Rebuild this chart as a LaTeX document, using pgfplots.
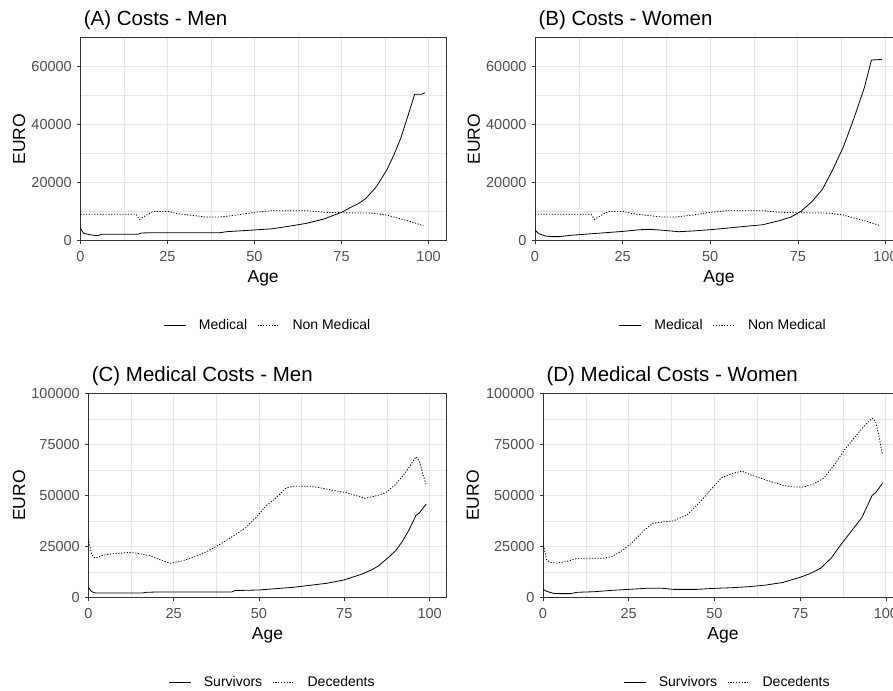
\documentclass[border=0pt]{standalone}
\usepackage{fontspec}
\setmainfont{Liberation Sans}
\usepackage{pgfplots}
\pgfplotsset{compat=1.18}
\definecolor{gridc}{HTML}{E6E6E6}
\definecolor{bordc}{HTML}{333333}
\definecolor{tickc}{HTML}{4D4D4D}
\pgfplotsset{
  panel/.style={
    scale only axis, anchor=south west,
    xmin=0, xmax=105, ymin=0,
    xtick={0,25,50,75,100}, minor xtick={12.5,37.5,62.5,87.5},
    grid=both,
    major grid style={line width=0.8pt, color=gridc},
    minor grid style={line width=0.45pt, color=gridc},
    tick pos=left, tick align=outside,
    major tick length=3.5pt, minor tick length=0pt,
    tick style={bordc, line width=0.7pt},
    axis line style={bordc, line width=0.8pt},
    ticklabel style={font=\fontsize{14.5}{16}\selectfont, text=tickc},
    xticklabel style={yshift=-4pt},
    yticklabel style={xshift=-1.5pt},
    /pgf/number format/fixed,
    /pgf/number format/precision=0,
    /pgf/number format/1000 sep={},
    /pgf/number format/assume math mode=true,
    scaled ticks=false,
    every axis title/.style={at={(axis description cs:0,1)}, anchor=base west, yshift=11.7pt, font=\fontsize{20.5}{24}\selectfont},
    xlabel=Age, ylabel=EURO,
    every axis x label/.style={at={(axis description cs:0.5,0)}, anchor=base, yshift=-42.3pt, font=\fontsize{17.5}{20}\selectfont},
    every axis y label/.style={rotate=90, anchor=base, font=\fontsize{17.5}{20}\selectfont},
    legend style={draw=none, fill=none, font=\fontsize{14}{16}\selectfont, anchor=center, legend columns=2,
      /tikz/every even column/.append style={column sep=8pt}},
    legend image code/.code={\draw[#1] (0pt,0pt) -- (22pt,0pt); \path[draw=none,fill=none] (22pt,0pt) -- (33pt,0pt);},
  },
  sol/.style={black, line width=0.8pt},
  dot/.style={black, line width=0.8pt, dash pattern=on 1.2pt off 1.6pt},
}
\begin{document}
\begin{tikzpicture}
% (A)
\begin{axis}[panel, at={(80.3pt,449.3pt)}, width=365.7pt, height=203pt,
  ymax=70000, ytick={0,20000,40000,60000}, minor ytick={10000,30000,50000,70000},
  title={(A) Costs - Men},
  ylabel style={at={(axis description cs:-0.1512,0.5)}},
  legend style={at={(axis description cs:0.513,-0.415)}}]
\addplot[sol] coordinates {(0,4250) (1,2500) (3,2000) (5,1700) (6,2200) (10,2200) (16.5,2200) (17.5,2650) (20,2750) (30,2750) (40,2750) (42,3100) (50,3700) (55,4100) (60,5000) (65,6000) (70,7500) (75,9800) (78,11700) (80,12900) (82,14600) (85,18600) (88,24400) (90,29500) (92,35300) (94,42800) (96,50500) (98,50500) (99,51000)};
\addlegendentry{Medical}
\addplot[dot] coordinates {(0,9100) (16,9100) (17,7350) (19,8850) (21,10100) (25,10100) (28,9300) (33,8600) (36,8150) (40,8150) (45,8850) (50,9800) (55,10350) (65,10350) (70,9800) (75,9650) (84,9500) (88,8850) (90,8150) (94,6900) (97,5750) (98.5,5200)};
\addlegendentry{Non Medical}
\end{axis}
% (B)
\begin{axis}[panel, at={(535pt,449.3pt)}, width=368pt, height=203pt,
  ymax=70000, ytick={0,20000,40000,60000}, minor ytick={10000,30000,50000,70000},
  title={(B) Costs - Women},
  ylabel style={at={(axis description cs:-0.1495,0.5)}},
  legend style={at={(axis description cs:0.512,-0.415)}}]
\addplot[sol] coordinates {(0,3700) (1,2500) (3,1600) (5,1400) (7,1400) (10,1850) (15,2300) (20,2750) (25,3200) (30,3800) (33,3900) (37,3550) (41,3100) (45,3350) (50,3800) (55,4350) (60,4950) (65,5500) (70,7000) (73,8150) (76,10250) (79,13450) (82,17700) (85,24600) (88,32400) (91,42200) (94,52900) (96,62300) (99,62500)};
\addlegendentry{Medical}
\addplot[dot] coordinates {(0,9100) (16,9100) (17,7350) (19,8850) (21,10100) (25,10100) (28,9300) (33,8600) (36,8150) (40,8150) (45,8850) (50,9800) (55,10350) (65,10350) (70,9800) (75,9650) (84,9500) (88,8850) (90,8150) (94,6900) (97,5750) (98.5,5200)};
\addlegendentry{Non Medical}
\end{axis}
% (C)
\begin{axis}[panel, at={(88.3pt,92.7pt)}, width=358.4pt, height=203.8pt,
  ymax=100000, ytick={0,25000,50000,75000,100000}, minor ytick={12500,37500,62500,87500},
  title={(C) Medical Costs - Men},
  ylabel style={at={(axis description cs:-0.1766,0.5)}},
  legend style={at={(axis description cs:0.514,-0.4156)}}]
\addplot[sol] coordinates {(0,4750) (1,2800) (2,2150) (16,2150) (17,2450) (20,2600) (42,2600) (43,3300) (50,3600) (55,4250) (60,4900) (65,5900) (70,6900) (75,8550) (80,11300) (83,13450) (85,15400) (88,19700) (90,22800) (92,27400) (94,33200) (96,40200) (97,41400) (99,45800)};
\addlegendentry{Survivors}
\addplot[dot] coordinates {(0,28600) (1,20900) (2,19200) (4,20500) (7,21300) (12,22000) (14,21700) (18,20400) (21,18400) (24,16700) (27,17600) (30,19200) (33,21000) (36,23600) (40,27400) (43,30700) (46,34000) (49,38900) (52,44700) (55,48800) (58,53700) (60,54500) (65,54500) (68,53700) (72,52400) (76,51200) (79,49600) (81,48600) (84,49600) (87,51200) (90,55300) (93,61400) (96,69000) (97,66800) (98,60300) (99,55300)};
\addlegendentry{Decedents}
\end{axis}
% (D)
\begin{axis}[panel, at={(543pt,92.7pt)}, width=360pt, height=203.8pt,
  ymax=100000, ytick={0,25000,50000,75000,100000}, minor ytick={12500,37500,62500,87500},
  title={(D) Medical Costs - Women},
  ylabel style={at={(axis description cs:-0.178,0.5)}},
  legend style={at={(axis description cs:0.5125,-0.4156)}}]
\addplot[sol] coordinates {(0,4050) (1,2950) (3,1950) (5,1800) (8,1800) (10,2450) (15,2750) (20,3400) (25,3900) (30,4400) (35,4400) (38,3900) (45,3900) (50,4400) (55,4700) (60,5200) (65,6000) (70,7300) (75,9800) (78,11700) (81,14300) (84,19100) (87,26100) (90,32600) (93,39100) (96,50000) (97,51300) (99,55900)};
\addlegendentry{Survivors}
\addplot[dot] coordinates {(0,26900) (1,18700) (2,17100) (4,16800) (7,17600) (10,19100) (13,19200) (17,19100) (20,19900) (23,22800) (26,26900) (29,32100) (32,36300) (35,37000) (38,37500) (42,40400) (46,47200) (49,52900) (52,58600) (55,60700) (58,61900) (61,59800) (64,58100) (67,56500) (70,54900) (73,54100) (76,54100) (79,55700) (82,58600) (85,65100) (88,72500) (91,78700) (94,84700) (96,87900) (97,86300) (98,79000) (99,70000)};
\addlegendentry{Decedents}
\end{axis}
\pgfresetboundingbox
\path (0pt,0pt) rectangle (893pt,690pt);
\end{tikzpicture}
\end{document}
